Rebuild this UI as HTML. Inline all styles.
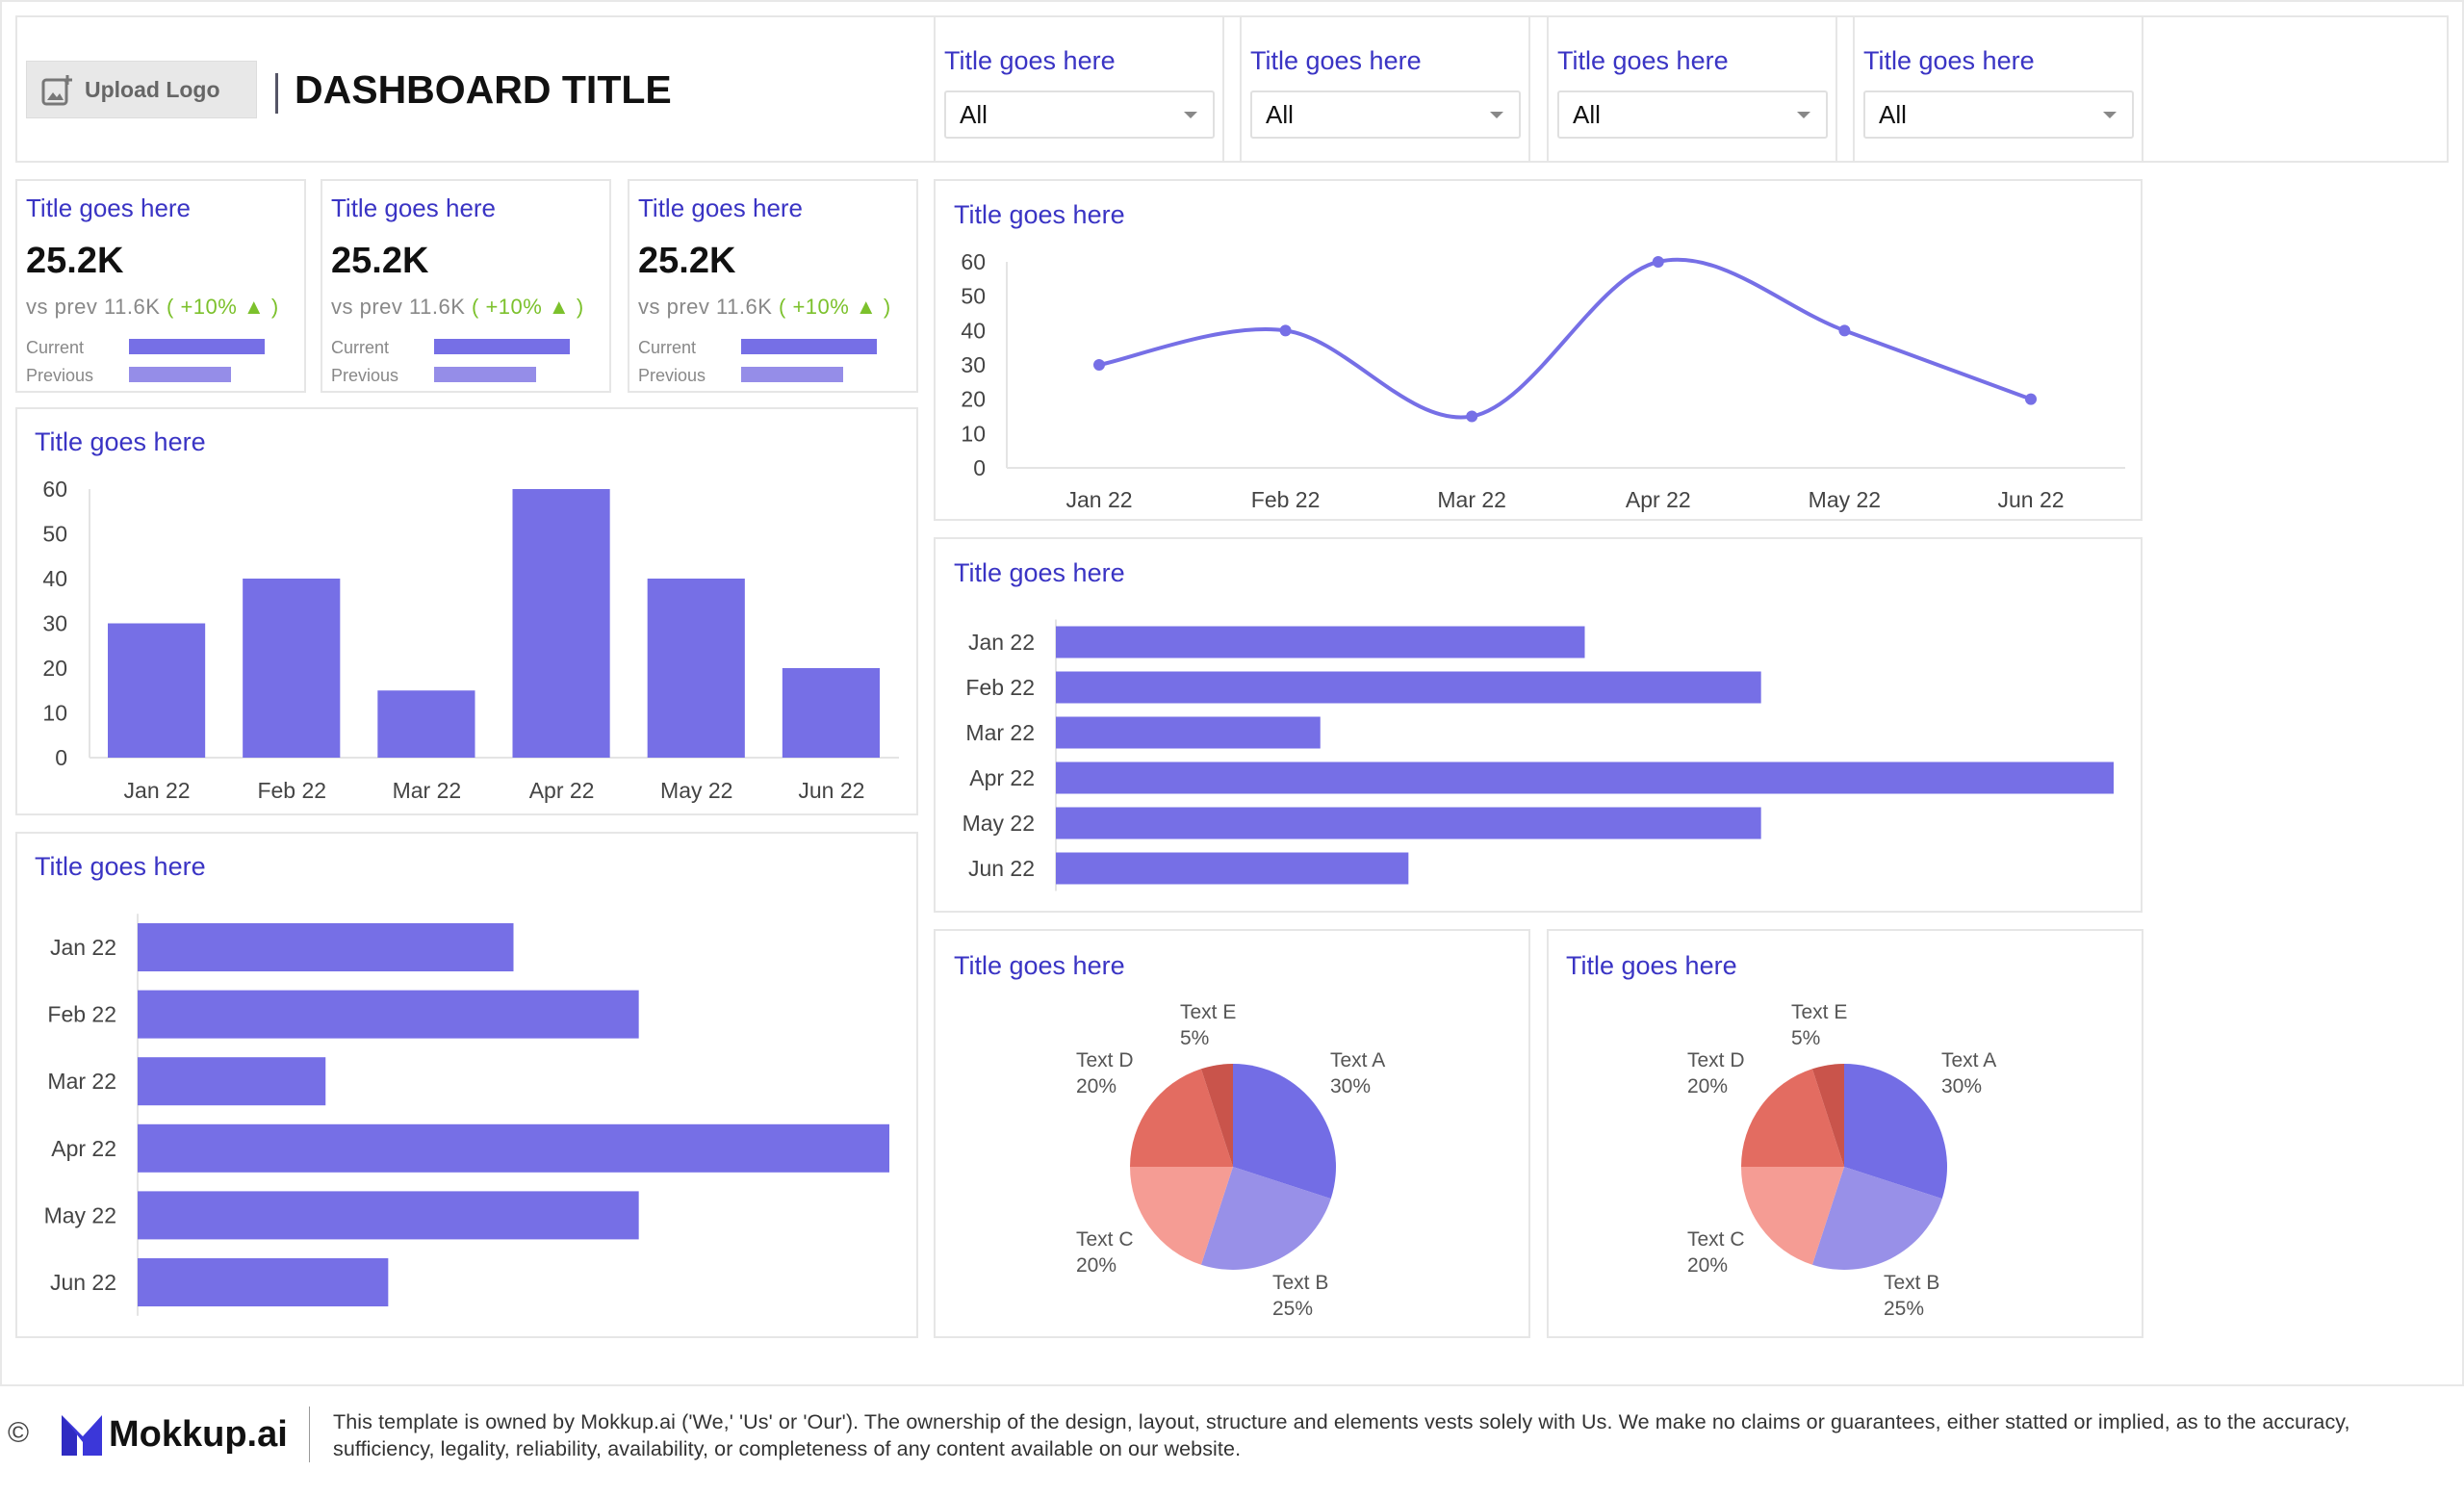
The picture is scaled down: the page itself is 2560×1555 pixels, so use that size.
<!DOCTYPE html>
<html><head><meta charset="utf-8">
<style>
*{box-sizing:border-box;margin:0;padding:0}
body{width:2560px;height:1555px;background:#fff;font-family:"Liberation Sans",Arial,sans-serif;position:relative;overflow:hidden}
.abs{position:absolute}
.panel{position:absolute;border:2px solid #e6e6e6;background:#fff}
.ttl{position:absolute;color:#3a34c4;font-size:27px;white-space:nowrap}
.sel{position:absolute;border:2px solid #e0e0e0;border-radius:3px;font-size:26px;color:#111;padding-left:14px;line-height:46px}
.sel:after{content:"";position:absolute;right:16px;top:20px;border-left:7px solid transparent;border-right:7px solid transparent;border-top:7px solid #888}
.kv{position:absolute;font-size:38px;font-weight:bold;color:#111}
.kp{position:absolute;font-size:22px;color:#888;white-space:nowrap;letter-spacing:0.5px}
.kl{position:absolute;font-size:18px;color:#888}
svg text{font-family:"Liberation Sans",Arial,sans-serif}
</style></head><body>
<div class="panel" style="left:0;top:0;width:2560px;height:1440px;border-color:#e8e8e8"></div>

<div class="panel" style="left:16px;top:16px;width:2528px;height:153px"></div>
<div class="abs" style="left:27px;top:63px;width:240px;height:60px;background:#e8e8e8;border:1px solid #ddd">
<svg class="abs" style="left:14px;top:13px" width="34" height="34" viewBox="0 0 34 34"><rect x="3" y="6" width="24" height="25" rx="3" fill="none" stroke="#777" stroke-width="3"/><path d="M7 27 L13 19 L17 24 L20 20 L24 27Z" fill="#777"/><path d="M28 1 V11 M23 6 H33" stroke="#777" stroke-width="3"/></svg>
<div class="abs" style="left:60px;top:16px;font-size:23px;color:#666;font-weight:bold">Upload Logo</div></div>
<div class="abs" style="left:286px;top:76px;width:3px;height:42px;background:#556"></div>
<div class="abs" style="left:306px;top:70px;font-size:41px;font-weight:bold;color:#111">DASHBOARD TITLE</div>

<div id="filters"></div>

<div id="kpis"></div>

<div class="panel" style="left:16px;top:423px;width:938px;height:424px"></div>
<div class="ttl" style="left:36px;top:444px">Title goes here</div>
<svg id="vbar" class="abs" style="left:0;top:0" width="1000" height="900"></svg>

<div class="panel" style="left:16px;top:864px;width:938px;height:526px"></div>
<div class="ttl" style="left:36px;top:885px">Title goes here</div>
<svg id="hbar1" class="abs" style="left:0;top:0" width="1000" height="1400"></svg>

<div class="panel" style="left:970px;top:186px;width:1256px;height:355px"></div>
<div class="ttl" style="left:991px;top:208px">Title goes here</div>
<svg id="line" class="abs" style="left:0;top:0" width="2300" height="560"></svg>

<div class="panel" style="left:970px;top:558px;width:1256px;height:390px"></div>
<div class="ttl" style="left:991px;top:580px">Title goes here</div>
<svg id="hbar2" class="abs" style="left:0;top:0" width="2300" height="960"></svg>

<div class="panel" style="left:970px;top:965px;width:620px;height:425px"></div>
<div class="ttl" style="left:991px;top:988px">Title goes here</div>
<div class="panel" style="left:1607px;top:965px;width:620px;height:425px"></div>
<div class="ttl" style="left:1627px;top:988px">Title goes here</div>
<svg id="pies" class="abs" style="left:0;top:0" width="2300" height="1400"></svg>

<div class="abs" style="left:8px;top:1472px;font-size:30px;color:#444">©</div>
<svg class="abs" style="left:62px;top:1468px" width="46" height="46" viewBox="0 0 46 46"><path d="M2 2 L18 18 L18 44 L2 44Z" fill="#2f2bc2"/><path d="M2 2 L24 24 L44 2 L44 44 L24 44 L24 30Z" fill="#3b37d9"/></svg>
<div class="abs" style="left:113px;top:1469px;font-size:38px;font-weight:bold;color:#111">Mokkup.ai</div>
<div class="abs" style="left:321px;top:1461px;width:1px;height:58px;background:#999"></div>
<div class="abs" style="left:346px;top:1463px;width:2180px;font-size:21.5px;line-height:28px;color:#333;letter-spacing:0.1px">This template is owned by Mokkup.ai ('We,' 'Us' or 'Our'). The ownership of the design, layout, structure and elements vests solely with Us. We make no claims or guarantees, either statted or implied, as to the accuracy, sufficiency, legality, reliability, availability, or completeness of any content available on our website.</div>

<script>
const months=["Jan 22","Feb 22","Mar 22","Apr 22","May 22","Jun 22"];
const vbarValues=[30,40,15,60,40,20];
const hbar1Values=[30,40,15,60,40,20];
const hbar2Values=[30,40,15,60,40,20];
const lineValues=[30,40,15,60,40,20];
const yTicks=[0,10,20,30,40,50,60];
const pieLabels=["Text A","Text B","Text C","Text D","Text E"];
const pieValues=[30,25,20,20,5];
const pieColors=["#736de5","#9890e8","#f59c94","#e36c61","#c9544b"];
const filterLeft=[970,1288,1607,1925];
const kpiLeft=[16,333,652];
const NS="http://www.w3.org/2000/svg";
const BAR="#766fe6";
function mk(p,tag,attrs,txt){const e=document.createElementNS(NS,tag);for(const k in attrs)e.setAttribute(k,attrs[k]);if(txt!==undefined)e.textContent=txt;p.appendChild(e);return e;}

const fw=document.getElementById('filters');
filterLeft.forEach((x,i)=>{
  const p=document.createElement('div');p.className='panel';p.style.cssText=`left:${x}px;top:16px;width:302px;height:153px`;
  
  
  fw.appendChild(p);
  const t=document.createElement('div');t.className='ttl';t.style.cssText=`left:${x+11}px;top:48px`;t.textContent='Title goes here';
  
  
  fw.appendChild(t);
  const s=document.createElement('div');s.className='sel';s.style.cssText=`left:${x+11}px;top:94px;width:281px;height:50px`;s.textContent='All';
  
  
  fw.appendChild(s);
});

const kw=document.getElementById('kpis');
kpiLeft.forEach(x=>{
  const h=`<div class="panel" style="left:${x}px;top:186px;width:302px;height:222px"></div>
  <div class="ttl" style="left:${x+11}px;top:201px;font-size:26px">Title goes here</div>
  <div class="kv" style="left:${x+11}px;top:250px">25.2K</div>
  <div class="kp" style="left:${x+11}px;top:306px">vs prev 11.6K <span style="color:#7cc12c">( +10% ▲ )</span></div>
  <div class="kl" style="left:${x+11}px;top:351px">Current</div>
  <div class="kl" style="left:${x+11}px;top:380px">Previous</div>
  <div class="abs" style="left:${x+118}px;top:352px;width:141px;height:16px;background:${BAR}"></div>
  <div class="abs" style="left:${x+118}px;top:381px;width:106px;height:16px;background:#958de8"></div>`;
  const d=document.createElement('div');d.innerHTML=h;
  
  
  kw.appendChild(d);
});

(function(){
  const s=document.getElementById('vbar');
  const x0=93,x1=934,y0=787,y1=508,bw=(x1-x0)/months.length;
  const y=v=>y0-(v/60)*(y0-y1);
  yTicks.forEach(t=>{const e=mk(s,'text',{x:70,y:y(t)+8,'text-anchor':'end','font-size':23,fill:'#444'},t);
    
    });
  const ax=mk(s,'line',{x1:x0,y1:y0,x2:x1,y2:y0,stroke:'#e4e4e4','stroke-width':2});
  
  
  mk(s,'line',{x1:x0,y1:y1,x2:x0,y2:y0,stroke:'#e4e4e4','stroke-width':2});
  vbarValues.forEach((v,i)=>{
    const r=mk(s,'rect',{x:x0+i*bw+19,y:y(v),width:bw-39,height:y0-y(v),fill:BAR});
    
    
    const t=mk(s,'text',{x:x0+i*bw+bw/2,y:829,'text-anchor':'middle','font-size':23,fill:'#444'},months[i]);
    
    
  });
})();

function hbar(id,vals,xStart,xMax,yFirst,step,bh,labelX,fs){
  const s=document.getElementById(id);
  const x=v=>xStart+(v/60)*(xMax-xStart);
  mk(s,'line',{x1:xStart,y1:yFirst-step/2,x2:xStart,y2:yFirst+step*(vals.length-0.5),stroke:'#e4e4e4','stroke-width':2});
  vals.forEach((v,i)=>{
    const cy=yFirst+i*step;
    const r=mk(s,'rect',{x:xStart,y:cy-bh/2,width:x(v)-xStart,height:bh,fill:BAR});
    
    
    const t=mk(s,'text',{x:labelX,y:cy+8,'text-anchor':'end','font-size':fs,fill:'#444'},months[i]);
    
    
  });
}
hbar('hbar1',hbar1Values,143,924,984,69.6,50,121,23);
hbar('hbar2',hbar2Values,1097,2196,667,47,33,1075,23);

(function(){
  const s=document.getElementById('line');
  const x0=1046,x1=2208,y0=486,y1=272,xa=1142,step=193.6;
  const y=v=>y0-(v/60)*(y0-y1);
  yTicks.forEach(t=>{const e=mk(s,'text',{x:1024,y:y(t)+8,'text-anchor':'end','font-size':23,fill:'#444'},t);
    
    });
  mk(s,'line',{x1:x0,y1:y0,x2:x1,y2:y0,stroke:'#e4e4e4','stroke-width':2});
  mk(s,'line',{x1:x0,y1:y1,x2:x0,y2:y0,stroke:'#e4e4e4','stroke-width':2});
  const pts=lineValues.map((v,i)=>[xa+i*step,y(v)]);
  let d=`M${pts[0][0]},${pts[0][1]}`;
  for(let i=0;i<pts.length-1;i++){
    const p0=pts[Math.max(0,i-1)],p1=pts[i],p2=pts[i+1],p3=pts[Math.min(pts.length-1,i+2)];
    const c1=[p1[0]+(p2[0]-p0[0])/6,p1[1]+(p2[1]-p0[1])/6],c2=[p2[0]-(p3[0]-p1[0])/6,p2[1]-(p3[1]-p1[1])/6];
    d+=` C${c1[0]},${c1[1]} ${c2[0]},${c2[1]} ${p2[0]},${p2[1]}`;
  }
  const l=mk(s,'path',{d:d,fill:'none',stroke:BAR,'stroke-width':4});
  
  
  pts.forEach((p,i)=>{
    const c=mk(s,'circle',{cx:p[0],cy:p[1],r:6,fill:BAR});
    
    
    const t=mk(s,'text',{x:p[0],y:527,'text-anchor':'middle','font-size':23,fill:'#444'},months[i]);
    
    
  });
})();

(function(){
  const s=document.getElementById('pies');
  const total=pieValues.reduce((a,b)=>a+b,0);
  [[1281,1212],[1916,1212]].forEach(([cx,cy])=>{
    const r=107;let a=-Math.PI/2;
    pieValues.forEach((v,i)=>{
      const a2=a+v/total*2*Math.PI;
      const large=(a2-a)>Math.PI?1:0;
      const p=mk(s,'path',{d:`M${cx},${cy} L${cx+r*Math.cos(a)},${cy+r*Math.sin(a)} A${r},${r} 0 ${large} 1 ${cx+r*Math.cos(a2)},${cy+r*Math.sin(a2)} Z`,fill:pieColors[i]});
      
      
      // label placement by angle quadrant
      const m=(a+a2)/2, cs=Math.cos(m), sn=Math.sin(m);
      let lx,ly;
      if(Math.abs(cs)<0.4 && sn<0){lx=cx-55;ly=cy-154;}
      else if(cs>=0 && sn<0){lx=cx+101;ly=cy-104;}
      else if(cs>=0){lx=cx+41;ly=cy+127;}
      else if(sn<0){lx=cx-163;ly=cy-104;}
      else {lx=cx-163;ly=cy+82;}
      const t=mk(s,'text',{x:lx,y:ly,'text-anchor':'start','font-size':21,fill:'#555'});
      
      
      mk(t,'tspan',{x:lx,dy:0},pieLabels[i]);
      mk(t,'tspan',{x:lx,dy:27},v+'%');
      a=a2;
    });
  });
})();
</script>
</body></html>
